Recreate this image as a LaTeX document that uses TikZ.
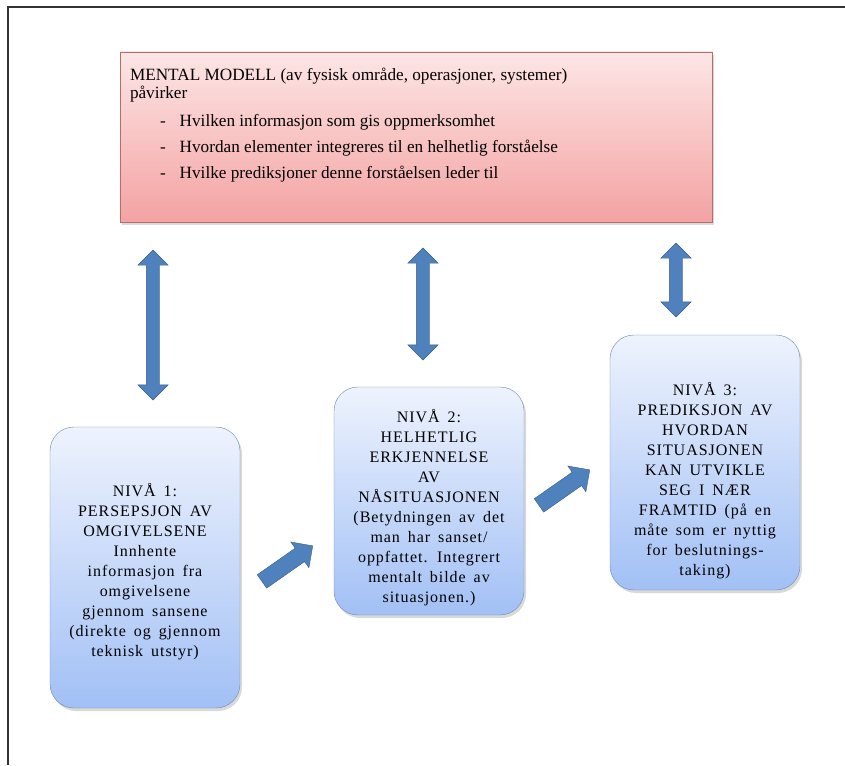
\documentclass[tikz,border=0pt]{standalone}
\usepackage{fontspec}
\setmainfont{Liberation Serif}
\newfontfamily\boxfont[LetterSpace=6,WordSpace=1.6]{Liberation Serif}
\usetikzlibrary{shapes.arrows,shadows}

\definecolor{redtop}{HTML}{FDE6E6}
\definecolor{redbot}{HTML}{F4A2A2}
\definecolor{rededge}{HTML}{B86B6B}
\definecolor{boxtop}{HTML}{EEF3FD}
\definecolor{boxbot}{HTML}{A2C0F5}
\definecolor{boxedge}{HTML}{6A8AB2}
\definecolor{pilblue}{HTML}{4F81BD}
\definecolor{pildark}{HTML}{385D8A}

\begin{document}
\begin{tikzpicture}[x=1pt,y=-1pt,
    nivaa/.style={draw=boxedge, rounded corners=24pt, top color=boxtop, bottom color=boxbot,
      minimum width=190pt, inner sep=0pt,
      drop shadow={opacity=.3, shadow xshift=2pt, shadow yshift=-3pt}},
    nivtekst/.style={align=center, inner sep=0pt, font=\boxfont\fontsize{16}{20}\selectfont},
    pil/.style={double arrow, draw=pildark, fill=pilblue, rotate=90, inner sep=6.5pt,
      double arrow head extend=8.5pt},
    skraa/.style={single arrow, draw=pildark, fill=pilblue, rotate=35, inner sep=8pt,
      single arrow head extend=7.5pt, minimum height=62pt}]
  \useasboundingbox (0,0) rectangle (845,765);
  \draw[line width=1.5pt, black!80] (8,765) -- (8,7) -- (845,7);

  % mental modell
  \node[draw=rededge, top color=redtop, bottom color=redbot, minimum width=592pt,
    minimum height=170pt, drop shadow={opacity=.3, shadow xshift=2pt, shadow yshift=-3pt}]
    (M) at (416,137) {};
  \node[anchor=north west, align=left, inner sep=0pt, font=\fontsize{17.2}{18.5}\selectfont]
    (MT) at ([xshift=10pt,yshift=-16pt]M.north west)
    {MENTAL MODELL (av fysisk område, operasjoner, systemer)\\
     påvirker\\[9pt]
     \hspace*{30pt}-\hspace{14pt}Hvilken informasjon som gis oppmerksomhet\\[7.5pt]
     \hspace*{30pt}-\hspace{14pt}Hvordan elementer integreres til en helhetlig forståelse\\[7.5pt]
     \hspace*{30pt}-\hspace{14pt}Hvilke prediksjoner denne forståelsen leder til};

  % nivaa 1-3
  \node[nivaa, minimum height=281pt] (N1) at (145,567.5) {};
  \node[nivaa, minimum height=228pt] (N2) at (429,501) {};
  \node[nivaa, minimum height=255pt] (N3) at (705,462.5) {};
  \node[nivtekst] (T1) at ([yshift=-4pt]N1.center)
    {NIVÅ 1:\\PERSEPSJON AV\\OMGIVELSENE\\Innhente\\informasjon fra\\omgivelsene\\
     gjennom sansene\\(direkte og gjennom\\teknisk utstyr)};
  \node[nivtekst] (T2) at ([yshift=-7pt]N2.center)
    {NIVÅ 2:\\HELHETLIG\\ERKJENNELSE\\AV\\NÅSITUASJONEN\\(Betydningen av det\\
     man har sanset/\\oppfattet. Integrert\\mentalt bilde av\\situasjonen.)};
  \node[nivtekst] (T3) at ([yshift=-18pt]N3.center)
    {NIVÅ 3:\\PREDIKSJON AV\\HVORDAN\\SITUASJONEN\\KAN UTVIKLE\\SEG I NÆR\\
     FRAMTID (på en\\måte som er nyttig\\for beslutnings-\\taking)};

  % piler
  \node[pil, minimum height=150pt] (P1) at (153,325) {};
  \node[pil, minimum height=112pt] (P2) at (423,304) {};
  \node[pil, minimum height=74pt] (P3) at (676,280) {};
  \node[skraa] (S1) at (284,566) {};
  \node[skraa] (S2) at (561,490) {};
\end{tikzpicture}
\end{document}
